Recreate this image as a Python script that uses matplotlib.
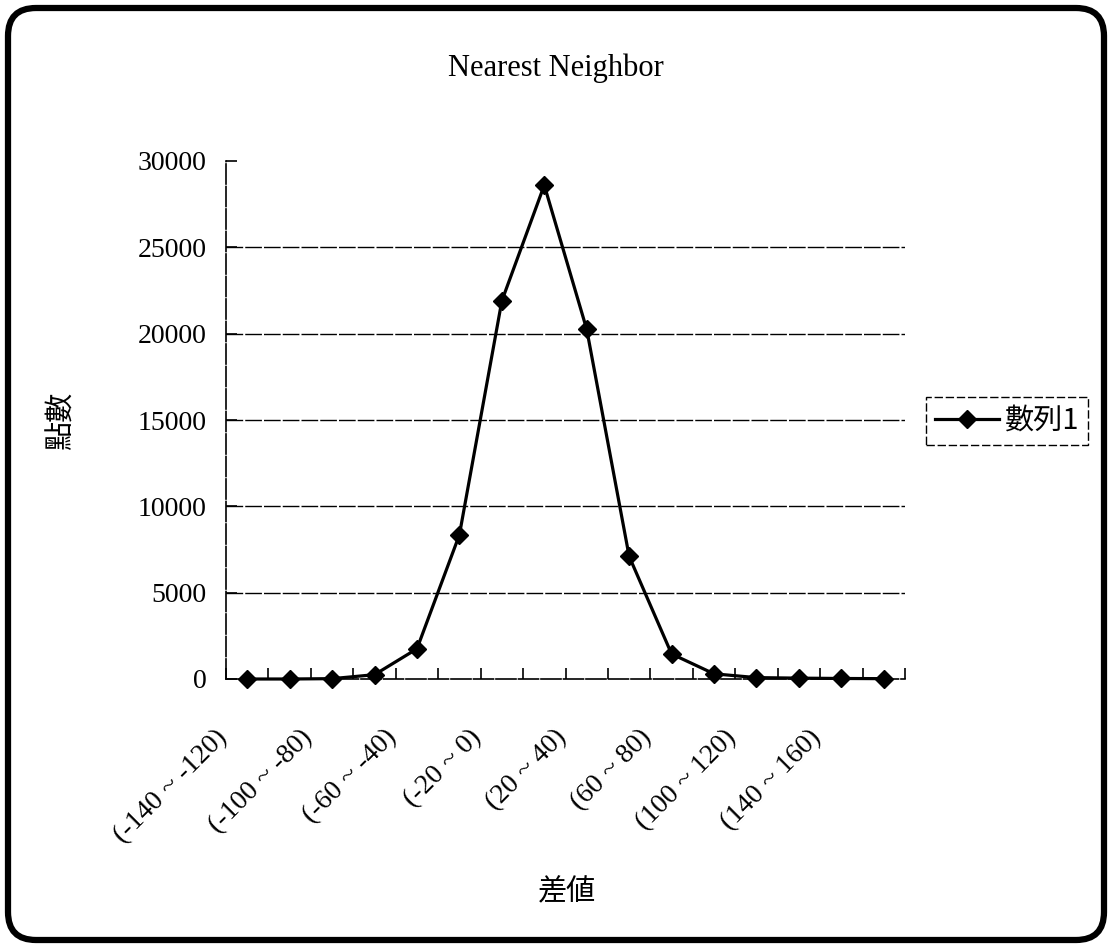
import matplotlib
matplotlib.use("Agg")
import matplotlib.pyplot as plt
import numpy as np
from matplotlib.patches import FancyBboxPatch
from matplotlib.transforms import ScaledTranslation

# ---- data ----
categories = ["(-140 ~ -120)", "(-120 ~ -100)", "(-100 ~ -80)", "(-80 ~ -60)",
              "(-60 ~ -40)", "(-40 ~ -20)", "(-20 ~ 0)", "(0 ~ 20)",
              "(20 ~ 40)", "(40 ~ 60)", "(60 ~ 80)", "(80 ~ 100)",
              "(100 ~ 120)", "(120 ~ 140)", "(140 ~ 160)", "(160 ~ 180)"]
counts = [0, 0, 20, 250, 1750, 8350, 21900, 28600,
          20250, 7100, 1450, 300, 80, 50, 30, 20]
y_ticks = [0, 5000, 10000, 15000, 20000, 25000, 30000]
title = "Nearest Neighbor"
x_label = "差値"
y_label = "點數"
series_name = "數列1"

SERIF = ["Liberation Serif", "DejaVu Serif"]
CJK = ["Noto Sans CJK TC", "DejaVu Sans"]

W, H = 1111, 948
fig = plt.figure(figsize=(W / 100, H / 100), dpi=100)
fig.patch.set_facecolor("white")

# rounded outer border
border = FancyBboxPatch((8, 8), 1096, 932,
                        boxstyle="round,pad=0,rounding_size=28",
                        transform=None, fill=False, edgecolor="black",
                        linewidth=4.5, zorder=10)
fig.patches.append(border)

left, right, top, bottom = 226, 905, 161, 679
ax = fig.add_axes([left / W, 1 - bottom / H, (right - left) / W, (bottom - top) / H])

x = np.arange(len(categories))
ax.plot(x, counts, color="black", linewidth=2.3, marker="D", markersize=9,
        markerfacecolor="black", markeredgecolor="black", label=series_name,
        zorder=5, clip_on=False)

ax.set_xlim(-0.5, len(categories) - 0.5)
ax.set_ylim(0, 30000)

# grid lines
for yv in y_ticks[1:-1]:
    ax.axhline(yv, color="black", linewidth=1.0, linestyle=(0, (12, 1.5)), zorder=1)

for s in ["top", "right"]:
    ax.spines[s].set_visible(False)
for s in ["left", "bottom"]:
    ax.spines[s].set_linewidth(1.2)
    ax.spines[s].set_linestyle((0, (12, 1.5)))

ax.set_yticks(y_ticks)
ax.set_yticklabels([str(v) for v in y_ticks], fontfamily=SERIF, fontsize=20)
ax.tick_params(axis="y", direction="in", length=8, width=1.2, pad=14)

ax.set_xticks(x[::2])
ax.set_xticklabels(categories[::2], fontfamily=SERIF, fontsize=20,
                   rotation=45, ha="right")
ax.tick_params(axis="x", which="major", length=0, pad=33)
ax.set_xticks(np.arange(-0.5, len(categories)), minor=True)
ax.tick_params(axis="x", which="minor", direction="in", length=8, width=1.2)
off = ScaledTranslation(-15 / 100, 0, fig.dpi_scale_trans)
for lab in ax.get_xticklabels():
    lab.set_transform(lab.get_transform() + off)

fig.text(556 / W, 1 - 68 / H, title, ha="center", va="center",
         fontfamily=SERIF, fontsize=22)
fig.text(62 / W, 1 - 421 / H, y_label, ha="center", va="center",
         rotation=90, fontfamily=CJK, fontsize=21)
fig.text(567 / W, 1 - 892 / H, x_label, ha="center", va="center",
         fontfamily=CJK, fontsize=21)

leg = ax.legend(loc="center left", bbox_to_anchor=(926 / W, 1 - 421 / H),
                bbox_transform=fig.transFigure, prop={"family": CJK, "size": 21},
                frameon=True, fancybox=False, framealpha=1, edgecolor="black",
                borderpad=0.3, handlelength=2.2, handletextpad=0.2,
                borderaxespad=0)
leg.get_frame().set_linewidth(1.0)
leg.get_frame().set_linestyle((0, (6, 2)))

fig.savefig("out.png", dpi=100, facecolor="white")
